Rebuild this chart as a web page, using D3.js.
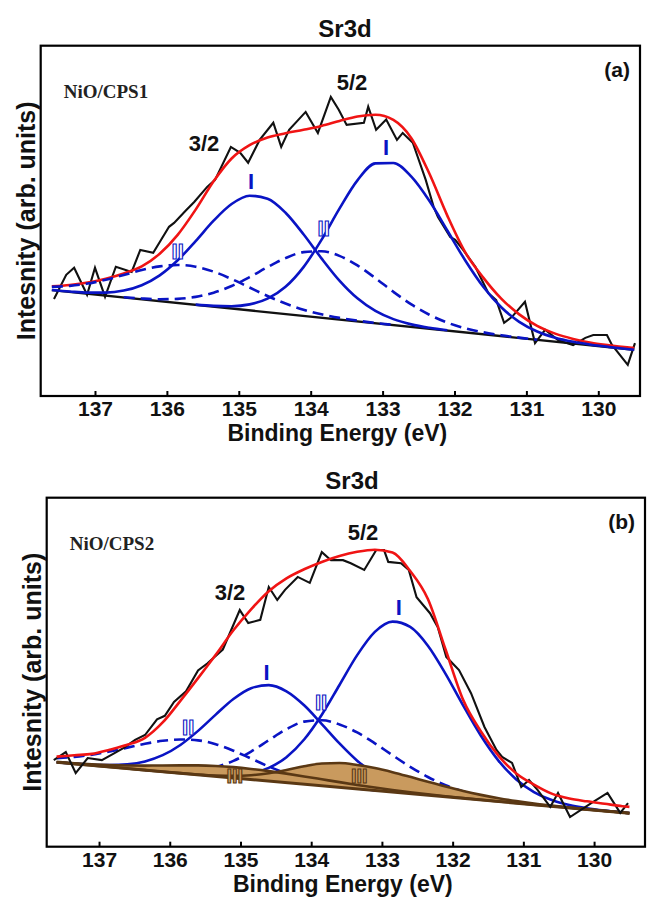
<!DOCTYPE html>
<html><head><meta charset="utf-8">
<script src="https://cdn.jsdelivr.net/npm/d3@7"></script>
<style>body{margin:0;background:#fff}svg{display:block}</style>
</head><body>
<svg id="chart" width="648" height="897"></svg>
<script>
// ---------- DATA ----------
const gridEV = [137.6,137.35,137.1,136.85,136.6,136.35,136.1,135.85,135.6,135.35,135.1,134.85,134.6,134.35,134.1,133.85,133.6,133.35,133.1,132.85,132.6,132.35,132.1,131.85,131.6,131.35,131.1,130.85,130.6,130.35,130.1,129.85,129.6,129.5];
const xTicks = [137,136,135,134,133,132,131,130];
const bgEV = [137.6,129.5];

// panel (a) NiO/CPS1
const aBackground = [30.21,13.2];
const aEnvelope = [31.3,31.7,32.4,33.5,35.0,37.0,40.6,46.0,53.2,61.3,67.8,71.6,73.8,75.0,76.0,77.1,78.5,79.8,80.3,78.8,73.6,63.5,51.5,41.0,33.8,27.8,23.3,20.0,17.8,16.3,15.2,14.5,13.9,13.7];
const aPeakI52 = [null,null,null,null,null,null,null,null,26.09,25.73,25.64,26.16,27.79,31.17,36.79,44.58,53.49,61.56,66.41,66.53,62.61,55.72,47.25,38.70,31.20,25.34,21.17,18.40,16.62,15.47,14.65,14.01,13.43,13.21];
const aPeakI32 = [30.25,29.82,29.51,29.52,30.09,31.62,34.44,38.75,44.23,50.04,54.80,57.17,56.31,52.32,46.18,39.30,32.94,27.88,24.28,21.94,20.45,19.48,18.76,null,null,null,null,null,null,null,null,null,null,null];
const aPeakII52 = [null,null,null,null,28.21,27.84,27.63,27.74,28.29,29.50,31.40,33.94,36.79,39.37,41.06,41.34,40.01,37.27,33.64,29.74,26.15,23.20,20.94,19.34,18.18,17.34,16.66,16.08,null,null,null,null,null,null];
const aPeakII32 = [31.16,31.44,32.10,33.19,34.55,35.95,37.01,37.41,36.90,35.50,33.39,30.96,28.53,26.39,24.65,23.32,22.30,21.52,20.86,20.28,null,null,null,null,null,null,null,null,null,null,null,null,null,null];
const aDataEV = [137.57,137.40,137.29,137.11,137.00,136.86,136.71,136.49,136.37,136.19,136.08,135.97,135.90,135.73,135.62,135.44,135.33,135.11,134.98,134.87,134.71,134.52,134.41,134.30,134.07,133.90,133.72,133.61,133.50,133.26,133.20,133.09,132.95,132.80,132.72,132.58,132.40,132.29,132.23,132.06,131.99,131.88,131.71,131.53,131.42,131.31,131.20,131.02,130.88,130.74,130.56,130.35,130.18,130.07,129.88,129.81,129.59,129.49];
const aDataI  = [27.7,34.6,36.6,28.9,36.6,28.3,36.9,35.4,41.7,40.9,44.6,48.3,49.4,53.1,55.4,59.7,61.7,71.1,69.4,66.6,73.1,78.0,71.1,76.0,81.1,75.1,85.4,81.7,77.4,78.0,82.6,76.0,78.9,73.1,75.1,72.3,61.7,54.0,51.1,45.4,44.6,41.7,36.9,29.4,27.4,20.9,22.6,26.9,15.1,18.9,16.0,14.5,16.6,17.4,17.4,14.6,8.9,15.1];

// panel (b) NiO/CPS2
const bBackground = [24.19,9.61];
const bBgGrid = [24.19,23.74,23.29,22.84,22.39,21.94,21.49,21.04,20.59,20.14,19.69,19.24,18.79,18.34,17.89,17.44,16.99,16.54,16.09,15.64,15.19,14.74,14.29,13.84,13.39,12.94,12.49,12.04,11.59,11.14,10.69,10.24,9.79,9.61];
const bPeakIII32 = [24.29,23.93,23.63,23.41,23.28,23.24,23.27,23.31,23.29,23.13,22.79,22.28,21.65,20.93,20.14,19.32,18.50,17.70,16.95,16.25,15.61,15.02,14.46,13.95,13.45,12.97,12.51,12.04,11.59,11.14,10.69,10.24,9.79,9.61];
const bPeakIII52 = [24.19,23.74,23.29,22.84,22.39,21.94,21.49,21.07,20.69,20.40,20.29,20.49,21.06,21.98,23.03,23.83,23.97,23.42,22.53,21.36,20.01,18.60,17.23,15.96,14.85,13.89,13.08,12.38,11.78,11.24,10.74,10.26,9.80,9.62];
const bEnvelope = [25.8,26.2,26.6,27.8,29.2,31.2,35.6,41.8,48.3,55.0,62.0,68.0,73.2,76.9,79.5,81.6,83.3,84.5,85.1,84.3,79.0,71.0,56.5,42.0,33.0,26.0,21.0,17.8,15.2,13.8,13.0,12.3,11.6,11.4];
const bPeakI52 = [null,null,null,null,null,null,null,null,20.69,20.43,20.45,21.02,22.58,25.66,30.71,37.81,46.34,54.89,61.55,64.50,62.98,57.60,49.54,40.42,31.78,24.61,19.28,15.66,13.36,11.94,11.02,10.36,9.83,9.63];
const bPeakI32 = [24.21,23.81,23.50,23.36,23.60,24.44,26.22,29.15,33.19,37.85,42.32,45.42,46.29,44.52,40.52,35.15,29.59,24.65,20.82,18.14,16.40,15.26,14.50,null,null,null,null,null,null,null,null,null,null,null];
const bPeakII52 = [null,null,null,null,null,22.02,21.72,21.62,21.90,22.82,24.59,27.25,30.50,33.66,35.83,36.24,35.04,32.73,29.63,26.20,22.88,19.97,17.60,15.80,14.47,13.50,12.76,12.16,null,null,null,null,null,null];
const bPeakII32 = [25.39,25.74,26.38,27.30,28.39,29.49,30.34,30.72,30.47,29.37,27.51,25.24,22.97,20.98,19.40,18.23,17.36,16.70,16.15,null,null,null,null,null,null,null,null,null,null,null,null,null,null,null];
const bDataEV = [137.64,137.47,137.33,137.16,136.96,136.80,136.65,136.49,136.35,136.18,136.07,135.94,135.77,135.60,135.47,135.25,135.01,134.89,134.72,134.60,134.48,134.37,134.19,134.02,133.85,133.72,133.55,133.44,133.25,133.08,132.97,132.91,132.73,132.62,132.51,132.32,132.21,132.09,131.91,131.74,131.55,131.38,131.30,131.16,131.03,130.92,130.80,130.62,130.51,130.34,130.04,129.81,129.63,129.52];
const bDataI  = [24.8,27.1,21.1,25.4,24.8,26.6,28.3,30.6,32.0,36.5,37.5,41.5,44.5,50.5,52.5,56.5,67.8,64.1,65.0,74.4,70.7,73.6,77.3,75.6,84.4,82.1,82.1,81.2,79.3,85.0,85.0,81.6,81.2,79.3,71.5,66.9,62.9,54.4,50.6,44.0,34.3,27.7,25.7,24.0,17.1,19.1,16.3,11.4,15.4,8.5,12.5,15.4,9.7,12.5];

// ---------- DRAWING ----------
const BLUE = '#0a14c4', RED = '#f01414', BROWN = '#5a3814', TAN = '#c99a5e';
const svg = d3.select('#chart');

function drawPanel(p) {
  const x = d3.scaleLinear().domain(p.xDomain).range([p.left, p.right]);
  const y = d3.scaleLinear().domain([0, 100]).range([p.bottom, p.top]);
  const g = svg.append('g');
  g.append('clipPath').attr('id', 'clip' + p.id).append('rect')
    .attr('x', p.left).attr('y', p.top).attr('width', p.right - p.left).attr('height', p.bottom - p.top);
  const plot = g.append('g').attr('clip-path', `url(#clip${p.id})`);

  const gridLine = d3.line().defined(d => d != null).x((d, i) => x(gridEV[i])).y(d => y(d)).curve(d3.curveMonotoneX);
  const pairLine = (xs, ys) => d3.line().x((d, i) => x(xs[i])).y(d => y(d))(ys);

  const drawComp = (arr, dashed) => plot.append('path').attr('d', gridLine(arr))
    .attr('fill', 'none').attr('stroke', BLUE).attr('stroke-width', 2.6)
    .attr('stroke-dasharray', dashed ? '11,6' : null);

  const drawData = () => plot.append('path').attr('d', pairLine(p.dataEV, p.dataI))
    .attr('fill', 'none').attr('stroke', '#111').attr('stroke-width', 2.1).attr('stroke-linejoin', 'miter');
  const drawEnv = () => plot.append('path').attr('d', gridLine(p.envelope))
    .attr('fill', 'none').attr('stroke', RED).attr('stroke-width', 2.6);

  if (!p.humps) {
    drawData();
    plot.append('path').attr('d', pairLine(bgEV, p.background)).attr('fill', 'none').attr('stroke', '#111').attr('stroke-width', 2.4);
    drawEnv();
    drawComp(p.comps[2], true); drawComp(p.comps[3], true);
    drawComp(p.comps[0], false); drawComp(p.comps[1], false);
  } else {
    drawComp(p.comps[2], true); drawComp(p.comps[3], true);
    drawComp(p.comps[0], false); drawComp(p.comps[1], false);
    const area = arr => d3.area().x((d, i) => x(gridEV[i])).y0((d, i) => y(p.bgGrid[i])).y1(d => y(d)).curve(d3.curveMonotoneX)(arr);
    p.humps.forEach(h => plot.append('path').attr('d', area(h)).attr('fill', TAN).attr('stroke', 'none'));
    p.humps.forEach(h => plot.append('path').attr('d', gridLine(h)).attr('fill', 'none').attr('stroke', BROWN).attr('stroke-width', 2.6));
    plot.append('path').attr('d', pairLine(bgEV, p.background)).attr('fill', 'none').attr('stroke', BROWN).attr('stroke-width', 3);
    drawData();
    drawEnv();
  }

  // frame
  g.append('rect').attr('x', p.left).attr('y', p.top).attr('width', p.right - p.left).attr('height', p.bottom - p.top)
    .attr('fill', 'none').attr('stroke', '#000').attr('stroke-width', 2.2);

  // x axis
  const ax = g.append('g').attr('transform', `translate(0,${p.bottom})`)
    .call(d3.axisBottom(x).tickValues(xTicks).tickSize(-5).tickPadding(5).tickFormat(d3.format('d')));
  ax.select('.domain').remove();
  ax.selectAll('.tick line').attr('stroke', '#000').attr('stroke-width', 2);
  ax.selectAll('.tick text').attr('fill', '#111').style('font', 'bold 21px "Liberation Sans", Arial, sans-serif');

  // axis titles
  g.append('text').attr('x', (p.left + p.right) / 2 - 3).attr('y', p.bottom + 45).attr('text-anchor', 'middle')
    .style('font', 'bold 23px "Liberation Sans", Arial, sans-serif').attr('fill', '#111').text('Binding Energy (eV)');
  g.append('text').attr('transform', `translate(${p.left - 6},${(p.top + p.bottom) / 2}) rotate(-90)`).attr('text-anchor', 'middle')
    .style('font', 'bold 25px "Liberation Sans", Arial, sans-serif').attr('fill', '#111').text('Intesnity (arb. units)');
  g.append('text').attr('x', p.titleX).attr('y', p.top - 9).attr('text-anchor', 'middle')
    .style('font', 'bold 24px "Liberation Sans", Arial, sans-serif').attr('fill', '#111').text('Sr3d');
  g.append('text').attr('x', p.right - 10).attr('y', p.top + 31).attr('text-anchor', 'end')
    .style('font', 'bold 21px "Liberation Sans", Arial, sans-serif').attr('fill', '#111').text(p.tag);
  g.append('text').attr('x', p.left + 23).attr('y', p.top + 52)
    .style('font', 'bold 19px "Liberation Serif", "Times New Roman", serif').attr('fill', '#222').text(p.sample);
  p.orbitals.forEach(o => g.append('text').attr('x', o.x).attr('y', o.y).attr('text-anchor', 'middle')
    .style('font', 'bold 22px "Liberation Sans", Arial, sans-serif').attr('fill', '#111').text(o.t));

  // roman numeral markers (placed in data coordinates)
  p.marks.forEach(m => {
    const t = g.append('text').attr('x', x(m.e)).attr('y', y(m.i)).attr('text-anchor', 'middle')
      .style('font', `bold ${m.t === 'III' ? 20 : 22}px "Liberation Sans", Arial, sans-serif`).text(m.t);
    if (m.t === 'I') t.attr('fill', BLUE);
    else if (m.t === 'II') t.attr('fill', '#fff').attr('stroke', BLUE).attr('stroke-width', 1.1);
    else t.attr('fill', TAN).attr('stroke', BROWN).attr('stroke-width', 1.1);
  });
}

drawPanel({
  id: 'a', left: 40.7, right: 640, top: 45.7, bottom: 396, xDomain: [137.755, 129.42],
  background: aBackground, envelope: aEnvelope,
  comps: [aPeakI52, aPeakI32, aPeakII52, aPeakII32],
  dataEV: aDataEV, dataI: aDataI,
  titleX: 345, tag: '(a)', sample: 'NiO/CPS1',
  orbitals: [{t: '3/2', x: 204, y: 151}, {t: '5/2', x: 352, y: 90}],
  marks: [{t: 'I', e: 134.83, i: 59.1}, {t: 'I', e: 132.95, i: 68.9}, {t: 'II', e: 135.85, i: 39.1}, {t: 'II', e: 133.82, i: 45.7}]
});

drawPanel({
  id: 'b', left: 46.7, right: 645, top: 497.7, bottom: 846.7, xDomain: [137.74, 129.28],
  background: bBackground, bgGrid: bBgGrid, envelope: bEnvelope,
  comps: [bPeakI52, bPeakI32, bPeakII52, bPeakII32],
  humps: [bPeakIII32, bPeakIII52],
  dataEV: bDataEV, dataI: bDataI,
  titleX: 352, tag: '(b)', sample: 'NiO/CPS2',
  orbitals: [{t: '3/2', x: 230, y: 600}, {t: '5/2', x: 363, y: 540}],
  marks: [{t: 'I', e: 134.63, i: 47.8}, {t: 'I', e: 132.76, i: 66.4}, {t: 'II', e: 135.74, i: 32.0}, {t: 'II', e: 133.86, i: 39.2},
          {t: 'III', e: 135.08, i: 18.3}, {t: 'III', e: 133.32, i: 18.3}]
});
</script>
</body></html>
